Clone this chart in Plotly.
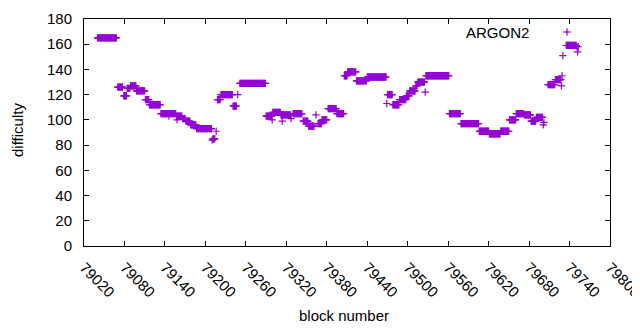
import plotly.graph_objects as go

# Runs of consecutive blocks sharing one difficulty value
run_start = [79040, 79070, 79079, 79084, 79089, 79098, 79111, 79117, 79134, 79146,
             79147, 79157, 79158, 79166, 79171, 79178, 79187, 79210, 79211, 79216,
             79218, 79223, 79241, 79248, 79251, 79290, 79299, 79300, 79312, 79314,
             79327, 79330, 79345, 79353, 79364, 79367, 79373, 79382, 79395, 79406,
             79411, 79424, 79440, 79469, 79470, 79478, 79488, 79498, 79503, 79512,
             79515, 79526, 79527, 79562, 79579, 79606, 79621, 79638, 79651, 79661,
             79673, 79683, 79691, 79701, 79702, 79708, 79719, 79728, 79729, 79730,
             79735, 79751, 79752, 79753]
run_end = [79068, 79077, 79083, 79088, 79097, 79110, 79116, 79133, 79145, 79146,
           79156, 79165, 79158, 79170, 79177, 79186, 79209, 79210, 79214, 79216,
           79222, 79240, 79246, 79248, 79289, 79298, 79299, 79311, 79326, 79314,
           79327, 79343, 79352, 79361, 79364, 79372, 79380, 79394, 79405, 79410,
           79423, 79439, 79468, 79469, 79477, 79487, 79497, 79502, 79511, 79514,
           79525, 79526, 79561, 79578, 79605, 79620, 79637, 79650, 79660, 79672,
           79682, 79690, 79700, 79701, 79702, 79718, 79727, 79728, 79729, 79730,
           79750, 79751, 79752, 79753]
run_value = [165, 126, 119, 125, 127, 123, 116, 112, 105, 103,
             105, 103, 100, 101, 99, 96, 93, 84, 85, 91,
             116, 120, 111, 120, 129, 103, 100, 106, 104, 99,
             101, 105, 99, 95, 104, 97, 100, 109, 105, 135,
             138, 131, 134, 113, 120, 112, 116, 119, 123, 127,
             130, 122, 135, 105, 97, 91, 89, 91, 100, 105,
             104, 99, 102, 96, 98, 128, 132, 127, 135, 151,
             159, 158, 154, 158]

x_ticks = [79020, 79080, 79140, 79200, 79260, 79320, 79380, 79440,
           79500, 79560, 79620, 79680, 79740, 79800]
y_ticks = [0, 20, 40, 60, 80, 100, 120, 140, 160, 180]

blocks, diffs = [], []
for s, e, v in zip(run_start, run_end, run_value):
    for b in range(s, e + 1):
        blocks.append(b)
        diffs.append(v)

PURPLE = "#9400D3"
FONT = "Liberation Sans"

fig = go.Figure()
fig.add_trace(go.Scatter(
    x=blocks, y=diffs, mode="markers", name="ARGON2",
    marker=dict(symbol="cross-thin", size=5.2, color=PURPLE,
                line=dict(color=PURPLE, width=1.2)),
    showlegend=False,
))

axis_common = dict(
    showline=True, linecolor="black", linewidth=1, mirror="ticks",
    ticks="inside", ticklen=5, tickcolor="black", tickwidth=1,
    showgrid=False, zeroline=False, automargin=False,
    tickfont=dict(family=FONT, size=15, color="black"),
)

fig.update_xaxes(range=[79020, 79800], tickvals=x_ticks,
                 ticktext=[str(t) for t in x_ticks], tickangle=45,
                 ticklabelstandoff=6, **axis_common)
fig.update_yaxes(range=[0, 180], tickvals=y_ticks,
                 ticktext=[str(t) for t in y_ticks],
                 ticklabelstandoff=8, **axis_common)

fig.update_layout(
    width=640, height=330,
    margin=dict(l=76, r=38, t=11, b=92),
    paper_bgcolor="white", plot_bgcolor="white",
    font=dict(family=FONT, size=15, color="black"),
    annotations=[
        dict(text="block number", xref="paper", yref="paper",
             x=(344 - 84) / 526, y=(246 - 315) / 227,
             xanchor="center", yanchor="middle", showarrow=False,
             font=dict(family=FONT, size=15, color="black")),
        dict(text="difficulty", xref="paper", yref="paper",
             x=(17 - 84) / 526, y=(246 - 130) / 227, textangle=-90,
             xanchor="center", yanchor="middle", showarrow=False,
             font=dict(family=FONT, size=15, color="black")),
        dict(text="ARGON2", xref="paper", yref="paper",
             x=(531 - 84) / 526, y=(246 - 32) / 227,
             xanchor="right", yanchor="middle", showarrow=False,
             font=dict(family=FONT, size=15, color="black")),
    ],
    shapes=[
        dict(type="line", xref="paper", yref="paper",
             xsizemode="pixel", ysizemode="pixel",
             xanchor=(567 - 84) / 526, yanchor=(246 - 32) / 227,
             x0=-3.7, x1=3.7, y0=0, y1=0,
             line=dict(color=PURPLE, width=1.2)),
        dict(type="line", xref="paper", yref="paper",
             xsizemode="pixel", ysizemode="pixel",
             xanchor=(567 - 84) / 526, yanchor=(246 - 32) / 227,
             x0=0, x1=0, y0=-3.7, y1=3.7,
             line=dict(color=PURPLE, width=1.2)),
    ],
)

fig.write_html("out.html")
